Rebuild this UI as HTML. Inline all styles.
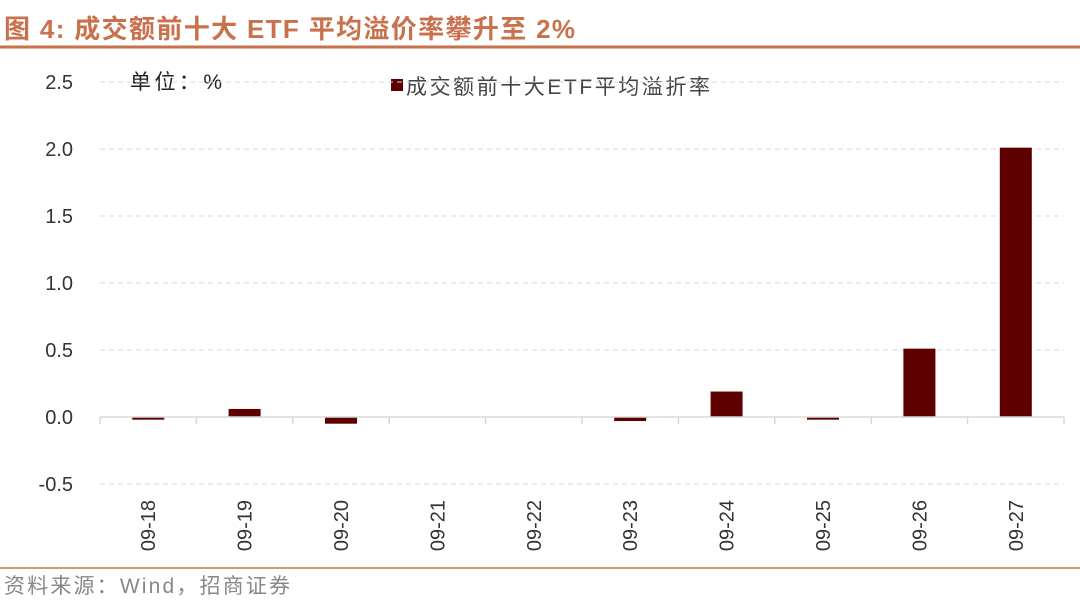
<!DOCTYPE html>
<html><head><meta charset="utf-8"><style>
body{margin:0;background:#fff;width:1080px;height:603px;overflow:hidden;font-family:"Liberation Sans","Noto Sans CJK SC",sans-serif}
</style></head><body>
<svg width="1080" height="603" xmlns="http://www.w3.org/2000/svg">
<text x="4" y="38" font-size="26" font-weight="bold" fill="#c9704d" textLength="571" lengthAdjust="spacing">图 4:  成交额前十大 ETF 平均溢价率攀升至 2%</text>
<line x1="0" y1="47" x2="1080" y2="47" stroke="#c9704d" stroke-width="3"/>
<line x1="0" y1="568" x2="1080" y2="568" stroke="#c9704d" stroke-width="1.5"/>
<text x="4" y="593" font-size="21" fill="#888" textLength="286" lengthAdjust="spacing">资料来源：Wind，招商证券</text>
<text x="130" y="89" font-size="21" fill="#222" textLength="92" lengthAdjust="spacing">单位：%</text>
<rect x="391" y="79" width="12" height="12" fill="#5e0000"/>
<text x="406" y="94" font-size="21" fill="#444" textLength="304" lengthAdjust="spacing">成交额前十大ETF平均溢折率</text>
<g id="grid"></g><g id="bars"></g><g id="axes"></g>
</svg>
<script>
const categories=["09-18","09-19","09-20","09-21","09-22","09-23","09-24","09-25","09-26","09-27"];
const premium=[-0.02,0.06,-0.05,0,0,-0.03,0.19,-0.02,0.51,2.01];
const yTicks=[2.5,2.0,1.5,1.0,0.5,0.0,-0.5];
const NS="http://www.w3.org/2000/svg";
const x0=100,x1=1064,yZero=417,pxPer=134;
const y=v=>yZero-v*pxPer;
const band=(x1-x0)/categories.length;
const xc=i=>x0+band*(i+0.5);
function mk(t,a,p){const e=document.createElementNS(NS,t);for(const k in a)e.setAttribute(k,a[k]);p.appendChild(e);return e;}
const grid=document.getElementById('grid'),bars=document.getElementById('bars'),axes=document.getElementById('axes');
yTicks.forEach(v=>{
 if(v!==0){const l=mk('line',{x1:x0,x2:x1,y1:y(v),y2:y(v),stroke:'#d9d9d9','stroke-dasharray':'5,4'},grid);
 
 }
 const t=mk('text',{x:73,y:y(v)+7,'font-size':20,fill:'#333','text-anchor':'end'},axes);
 t.textContent=v.toFixed(1);
 
 
});
premium.forEach((v,i)=>{
 const top=Math.min(y(v),yZero),h=Math.max(Math.abs(y(v)-yZero),v===0?0:2);
 const r=mk('rect',{x:xc(i)-16,y:top,width:32,height:h,fill:'#5e0000'},bars);
 
 
});
const ax=mk('line',{x1:x0,x2:x1,y1:yZero,y2:yZero,stroke:'#d9d9d9','stroke-width':1.5},axes);


for(let i=0;i<=categories.length;i++){
 const tk=mk('line',{x1:x0+band*i,x2:x0+band*i,y1:yZero,y2:yZero+7,stroke:'#d9d9d9','stroke-width':1.5},axes);
 
 
}
categories.forEach((c,i)=>{
 const t=mk('text',{x:0,y:0,'font-size':20,fill:'#333','text-anchor':'end',transform:`translate(${xc(i)+7},500) rotate(-90)`},axes);
 t.textContent=c;
 
 
});
</script>
</body></html>
